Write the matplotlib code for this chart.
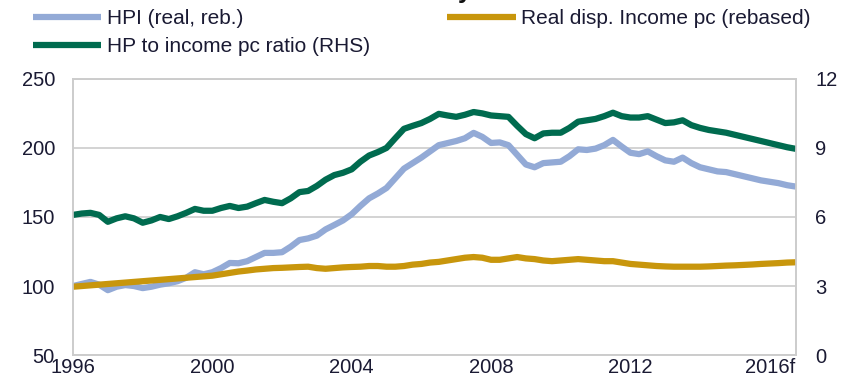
import matplotlib
matplotlib.use('Agg')
import numpy as np
import matplotlib.pyplot as plt

plt.rcParams['font.family'] = ['Liberation Sans', 'DejaVu Sans']

# Quarterly series, 1996Q1 - 2016Q4
quarters = np.arange(84) / 4.0 + 1996

hpi_real = [100, 101.5, 103, 101, 97, 99.5, 100.7, 100, 98.5, 99.5, 101, 102,
            103.5, 106, 110, 108.5, 110, 113, 116.7, 116.5, 118, 121, 124, 124,
            124.5, 128.5, 133.3, 134.5, 136.5, 141, 144.2, 147.5, 152, 158, 163.5, 167,
            171, 178, 185, 189, 193, 197.5, 202, 203.5, 205, 207, 210.9, 208,
            203.6, 204, 202, 195, 188, 186, 189, 189.5, 190, 194, 199, 198.5,
            199.5, 202, 205.8, 201, 196.5, 195.5, 197.5, 194, 191, 190, 193, 189,
            186, 184.5, 183, 182.5, 181, 179.5, 178, 176.5, 175.5, 174.5, 173, 172]

income_pc = [99.5, 100, 100.5, 101, 101.5, 102, 102.5, 103, 103.5, 104, 104.5, 105,
             105.5, 106, 106.5, 107, 107.5, 108.5, 109.5, 110.5, 111.2, 112, 112.5, 113,
             113.2, 113.5, 113.8, 114, 113, 112.5, 113, 113.5, 113.8, 114, 114.5, 114.5,
             114, 114, 114.5, 115.5, 116, 117, 117.5, 118.5, 119.5, 120.5, 121, 120.5,
             119, 119, 120, 121, 120, 119.5, 118.5, 118, 118.5, 119, 119.5, 119,
             118.5, 118, 118, 117, 116, 115.5, 115, 114.5, 114.2, 114, 114, 114,
             114, 114.2, 114.5, 114.8, 115, 115.3, 115.6, 116, 116.3, 116.6, 117, 117.2]

hp_income_ratio = [6.09, 6.15, 6.18, 6.09, 5.79, 5.94, 6.03, 5.94, 5.75, 5.85, 6.00, 5.91,
                   6.03, 6.18, 6.35, 6.27, 6.27, 6.39, 6.48, 6.39, 6.45, 6.60, 6.74, 6.66,
                   6.60, 6.81, 7.08, 7.13, 7.35, 7.62, 7.82, 7.92, 8.07, 8.40, 8.67, 8.82,
                   9.00, 9.42, 9.83, 9.96, 10.08, 10.26, 10.48, 10.41, 10.35, 10.44, 10.56, 10.50,
                   10.41, 10.38, 10.35, 9.96, 9.60, 9.42, 9.63, 9.66, 9.66, 9.87, 10.14, 10.20,
                   10.26, 10.38, 10.53, 10.38, 10.32, 10.32, 10.38, 10.23, 10.08, 10.11, 10.20, 9.99,
                   9.87, 9.78, 9.72, 9.66, 9.57, 9.48, 9.39, 9.30, 9.21, 9.12, 9.03, 8.96]

x_ticks = [1996, 2000, 2004, 2008, 2012, 2016]
x_labels = ['1996', '2000', '2004', '2008', '2012', '2016f']

c_hpi = '#93aad6'
c_inc = '#c8960c'
c_ratio = '#006b4f'
c_text = '#1a1a33'
c_grid = '#cccccc'

fig = plt.figure(figsize=(8.53, 3.81), dpi=100)
ax = fig.add_axes([0.0856, 0.068, 0.8474, 0.725])

l1, = ax.plot(quarters, hpi_real, color=c_hpi, lw=4.5, solid_capstyle='butt',
              label='HPI (real, reb.)', zorder=3)
l3, = ax.plot(quarters, income_pc, color=c_inc, lw=4.5, solid_capstyle='butt',
              label='Real disp. Income pc (rebased)', zorder=4)
ax.set_ylim(50, 250)
ax.set_yticks([50, 100, 150, 200, 250])
ax.set_xlim(1996, 2016.75)
ax.set_xticks(x_ticks)
ax.set_xticklabels(x_labels)
ax.grid(axis='y', color=c_grid, lw=1.2)
ax.set_axisbelow(True)
ax.tick_params(axis='y', length=0, pad=13, labelsize=14.5, labelcolor=c_text)
ax.tick_params(axis='x', length=0, pad=2, labelsize=14.5, labelcolor=c_text)
for s in ax.spines.values():
    s.set_color(c_grid)
    s.set_linewidth(1.2)

ax2 = ax.twinx()
l2, = ax2.plot(quarters, hp_income_ratio, color=c_ratio, lw=4.5, solid_capstyle='butt',
               label='HP to income pc ratio (RHS)')
ax2.set_ylim(0, 12)
ax2.set_yticks([0, 3, 6, 9, 12])
ax2.tick_params(axis='y', length=0, pad=14, labelsize=14.5, labelcolor=c_text)
for s in ax2.spines.values():
    s.set_color(c_grid)
    s.set_linewidth(1.2)

fig.legend(handles=[l1, l2, l3], loc='upper left', bbox_to_anchor=(0.037, 0.978),
           ncol=2, frameon=False, fontsize=15, handlelength=3.3, handletextpad=0.25,
           labelspacing=0.42, columnspacing=3.7, borderpad=0.05, borderaxespad=0,
           labelcolor=c_text)

# tail of the heading above the chart
fig.text(0.545, 1.004, 'y', fontsize=18, fontweight='bold', ha='center', va='baseline',
         color='#111111')

fig.savefig('out.png', dpi=100)
